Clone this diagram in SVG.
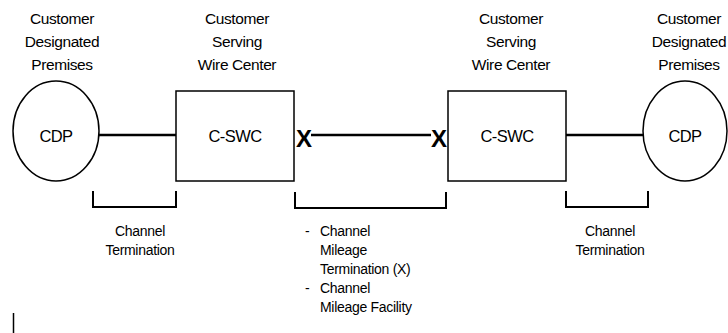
<svg xmlns="http://www.w3.org/2000/svg" width="728" height="333" viewBox="0 0 728 333">
<style>
text{font-family:"Liberation Sans",Arial,sans-serif;fill:#000}
.hdr{font-size:15.5px;text-anchor:middle;letter-spacing:-0.4px}
.nl{font-size:16.5px;text-anchor:middle;letter-spacing:-0.6px}
.lbl{font-size:14px;letter-spacing:-0.3px}
.c{text-anchor:middle}
.shape{fill:#fff;stroke:#000;stroke-width:1.5}
.wire{stroke:#000;stroke-width:2.5;fill:none}
.br{stroke:#000;stroke-width:2;fill:none}
.x{font-size:24px;font-weight:bold;text-anchor:middle}
</style>
<rect width="728" height="333" fill="#fff"/>
<g id="connectors">
<line class="wire" x1="99" y1="135" x2="176" y2="135"/>
<line class="wire" x1="311" y1="135" x2="431" y2="135"/>
<line class="wire" x1="566" y1="135" x2="643" y2="135"/>
<text class="x" x="304" y="147">X</text>
<text class="x" x="439" y="147">X</text>
</g>
<g id="cdp-left">
<text class="hdr" x="62" y="24">Customer</text>
<text class="hdr" x="62" y="47">Designated</text>
<text class="hdr" x="62" y="70">Premises</text>
<ellipse class="shape" cx="56" cy="131" rx="43" ry="50"/>
<text class="nl" x="56" y="142">CDP</text>
</g>
<g id="cswc-left">
<text class="hdr" x="237" y="24">Customer</text>
<text class="hdr" x="237" y="47">Serving</text>
<text class="hdr" x="237" y="70">Wire Center</text>
<rect class="shape" x="176" y="91" width="118" height="90"/>
<text class="nl" x="235" y="142">C-SWC</text>
</g>
<g id="cswc-right">
<text class="hdr" x="511" y="24">Customer</text>
<text class="hdr" x="511" y="47">Serving</text>
<text class="hdr" x="511" y="70">Wire Center</text>
<rect class="shape" x="448" y="91" width="118" height="90"/>
<text class="nl" x="507" y="142">C-SWC</text>
</g>
<g id="cdp-right">
<text class="hdr" x="689" y="24">Customer</text>
<text class="hdr" x="689" y="47">Designated</text>
<text class="hdr" x="689" y="70">Premises</text>
<ellipse class="shape" cx="685" cy="131" rx="42" ry="50"/>
<text class="nl" x="685" y="142">CDP</text>
</g>
<g id="bracket-left">
<polyline class="br" points="93,191 93,207 176,207 176,191"/>
<text class="lbl c" x="140" y="236">Channel</text>
<text class="lbl c" x="140" y="255">Termination</text>
</g>
<g id="bracket-middle">
<polyline class="br" points="295,192 295,208 446,208 446,192"/>
<text class="lbl" x="305" y="236">-</text>
<text class="lbl" x="320" y="236">Channel</text>
<text class="lbl" x="320" y="255">Mileage</text>
<text class="lbl" x="320" y="274">Termination (X)</text>
<text class="lbl" x="305" y="293">-</text>
<text class="lbl" x="320" y="293">Channel</text>
<text class="lbl" x="320" y="312">Mileage Facility</text>
</g>
<g id="bracket-right">
<polyline class="br" points="566,191 566,207 648,207 648,191"/>
<text class="lbl c" x="610" y="236">Channel</text>
<text class="lbl c" x="610" y="255">Termination</text>
</g>
<line x1="13.5" y1="313" x2="13.5" y2="333" stroke="#000" stroke-width="1.5"/>
</svg>
